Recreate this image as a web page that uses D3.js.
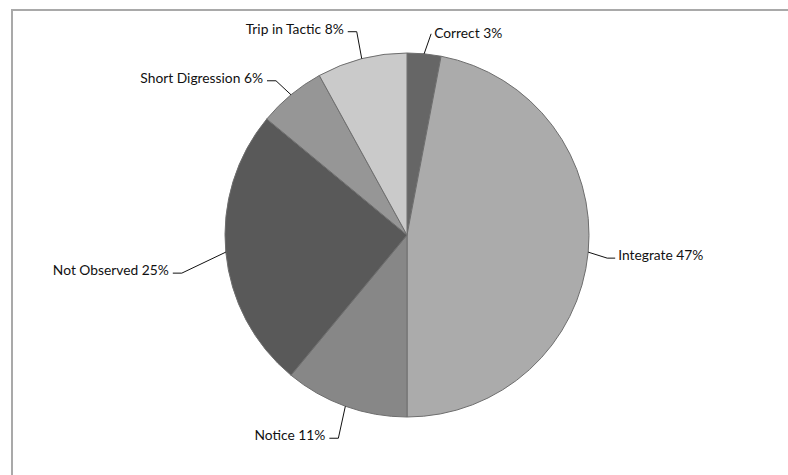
<!DOCTYPE html>
<html>
<head>
<meta charset="utf-8">
<script src="https://cdn.jsdelivr.net/npm/d3@7"></script>
<style>
  html, body { margin: 0; padding: 0; background: #fff; }
  svg { display: block; }
  text { font-family: Lato, "Open Sans", "Liberation Sans", sans-serif; font-size: 13.8px; fill: #111; }
</style>
</head>
<body>
<svg id="chart" width="788" height="475"></svg>
<script>
// Share of observed responses by category
const categories = ["Correct", "Integrate", "Notice", "Not Observed", "Short Digression", "Trip in Tactic"];
const values = [3, 47, 11, 25, 6, 8];
const colors = ["#666666", "#ababab", "#878787", "#595959", "#969696", "#cacaca"];

// Leader elbow offsets from the slice's outer edge, and which side the label sits on
const leaderOffsets = [[7, -20], [19, 6], [-7, 32], [-44, 21], [-15, -14], [-5, -27]];
const labelSide = ["right", "right", "left", "left", "left", "left"];

const svg = d3.select("#chart");
const cx = 407, cy = 235, radius = 182;

// chart frame
svg.append("rect")
  .attr("x", 12).attr("y", 10)
  .attr("width", 820).attr("height", 520)
  .attr("fill", "none")
  .attr("stroke", "#a9a9a9")
  .attr("stroke-width", 2);

const data = categories.map((c, i) => ({ name: c, value: values[i], i }));
const pie = d3.pie().value(d => d.value).sort(null);
const arcs = pie(data);
const arc = d3.arc().innerRadius(0).outerRadius(radius);

const g = svg.append("g").attr("transform", `translate(${cx},${cy})`);

g.selectAll("path.slice")
  .data(arcs)
  .join("path")
  .attr("class", "slice")
  .attr("d", arc)
  .attr("fill", d => colors[d.data.i])
  .attr("stroke", "#6e6e6e")
  .attr("stroke-width", 1);

// leader lines and labels
arcs.forEach(d => {
  const mid = (d.startAngle + d.endAngle) / 2;
  const ex = radius * Math.sin(mid), ey = -radius * Math.cos(mid);
  const [ox, oy] = leaderOffsets[d.data.i];
  const bx = ex + ox, by = ey + oy;
  const side = labelSide[d.data.i];
  const pts = [[ex, ey], [bx, by]];
  let tx, ty, anchor;
  if (d.data.i === 0) {
    tx = bx + 3; ty = by - 1; anchor = "start";
  } else if (side === "right") {
    pts.push([bx + 8, by]);
    tx = bx + 11; ty = by - 3; anchor = "start";
  } else {
    pts.push([bx - 9, by]);
    tx = bx - 13; ty = by - 3; anchor = "end";
  }
  g.append("path")
    .attr("d", d3.line()(pts))
    .attr("fill", "none")
    .attr("stroke", "#111")
    .attr("stroke-width", 1);
  g.append("text")
    .attr("x", tx).attr("y", ty)
    .attr("dy", "0.35em")
    .attr("text-anchor", anchor)
    .text(`${d.data.name} ${d.data.value}%`);
});
</script>
</body>
</html>
